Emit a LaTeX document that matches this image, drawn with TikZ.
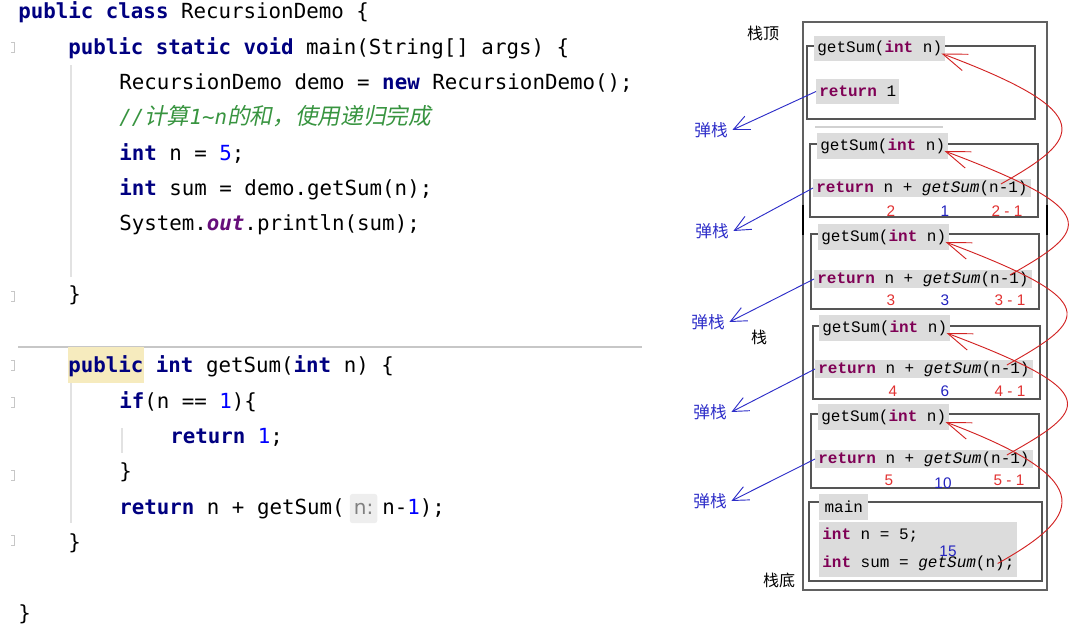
\documentclass[tikz,border=0pt]{standalone}
\usepackage{fontspec}
\setmonofont{DejaVu Sans Mono}
\setsansfont{Liberation Sans}
\newfontfamily\stackfont{Liberation Mono}
\newfontfamily\cjk{Noto Sans CJK SC}
\newfontfamily\cjkslant[FakeSlant=0.2]{Noto Sans CJK SC}
\newfontfamily\hintfont{DejaVu Sans}
\usetikzlibrary{arrows.meta,positioning}

\definecolor{kwnavy}{RGB}{0,0,128}
\definecolor{litblue}{RGB}{0,0,255}
\definecolor{cmtgreen}{RGB}{56,148,64}
\definecolor{fieldpurple}{RGB}{102,14,122}
\definecolor{pubbg}{RGB}{246,235,190}
\definecolor{guide}{RGB}{226,226,226}
\definecolor{hintbg}{RGB}{238,238,238}
\definecolor{hintfg}{RGB}{128,128,128}
\definecolor{ekpurple}{RGB}{127,0,85}
\definecolor{hlgray}{RGB}{220,220,220}
\definecolor{framegray}{RGB}{85,85,85}
\definecolor{popblue}{RGB}{45,45,200}
\definecolor{callred}{RGB}{210,35,35}
\definecolor{valred}{RGB}{225,50,50}
\definecolor{valblue}{RGB}{35,35,190}

\newcommand\kw[1]{\textcolor{kwnavy}{\bfseries #1}}
\newcommand\lit[1]{\textcolor{litblue}{#1}}
\newcommand\ek[1]{\textcolor{ekpurple}{\bfseries #1}}
\newcommand\codefont{\ttfamily\fontsize{15.6}{18}\selectfont}
\newcommand\stackfnt{\stackfont\fontsize{12}{21}\selectfont}

\begin{document}
\begin{tikzpicture}[x=0.75pt,y=-0.75pt,
  code/.style={anchor=base west, inner sep=0pt, font=\codefont},
  guideline/.style={draw=guide, line width=0.8pt},
  fold/.style={draw=black!22, line width=0.6pt},
  hint/.style={fill=hintbg, rounded corners=2pt, text=hintfg, inner xsep=3pt, inner ysep=0pt, minimum height=22pt, font=\hintfont\fontsize{15}{16}\selectfont},
  stackframe/.style={draw=framegray, line width=1.1pt},
  frametitle/.style={anchor=west, fill=hlgray, inner xsep=2.3pt, inner ysep=0pt, minimum height=19pt, font=\stackfnt},
  retline/.style={anchor=west, fill=hlgray, inner xsep=2.3pt, inner ysep=0pt, minimum height=13.5pt, font=\stackfnt},
  valnum/.style={inner sep=0pt, font=\sffamily\fontsize{11.5}{12}\selectfont},
  stacktag/.style={font=\cjk\fontsize{12}{14}\selectfont},
  pop/.style={text=popblue, font=\cjk\fontsize{12.5}{14}\selectfont},
  poparrow/.style={draw=popblue, line width=0.7pt, -{Straight Barb[length=12pt,width=11pt]}},
  callarrow/.style={draw=callred, line width=0.7pt, -{Straight Barb[length=18pt,width=13pt]}},
]
\useasboundingbox (0,0) rectangle (1076,638);

% the java source
\node[code] (c1) at (18,19) {\kw{public class} RecursionDemo \{};
\node[code] (c2) at (68,54.3) {\kw{public static void} main(String[] args) \{};
\node[code] (c3) at (119,89.6) {RecursionDemo demo = \kw{new} RecursionDemo();};
\node[code, text=cmtgreen] (c4) at (119,124.9) {\itshape //{\cjkslant\fontsize{17}{18}\selectfont 计算}1\textasciitilde n{\cjkslant\fontsize{17}{18}\selectfont 的和，使用递归完成}};
\node[code] (c5) at (119,160.2) {\kw{int} n = \lit{5};};
\node[code] (c6) at (119,195.5) {\kw{int} sum = demo.getSum(n);};
\node[code] (c7) at (119,230.8) {System.\textcolor{fieldpurple}{\bfseries\itshape out}.println(sum);};
\node[code] (c8) at (68,301.4) {\}};

\draw[draw=black!22, line width=1.1pt] (18,347) -- (642,347);
\fill[pubbg] (68,347.5) rectangle (144,383);

\node[code] (c9) at (68,373) {\kw{public int} getSum(\kw{int} n) \{};
\node[code] (c10) at (119,408.3) {\kw{if}(n == \lit{1})\{};
\node[code] (c11) at (170,443.6) {\kw{return} \lit{1};};
\node[code] (c12) at (119,478.9) {\}};
\node[code] (c13) at (119,514.2) {\kw{return} n + getSum(};
\node[hint, right=3.5pt of c13] (h) {n:};
\node[code] (c14) at ([xshift=3.4pt]h.east |- c13.base) {n-\lit{1});};
\node[code] (c15) at (68,549.5) {\}};
\node[code] (c16) at (18,620.1) {\}};

% indent guides and fold marks
\draw[guideline] (71,65) -- (71,277);
\draw[guideline] (71,383) -- (71,523);
\draw[guideline] (122,428) -- (122,453);
\foreach \y in {47,296,365,402,475,540}
  \draw[fold] (11,\y-5) -- (14,\y-5) -- (14,\y+5) -- (11,\y+5);

% the call stack
\draw[draw=black!62, line width=1.1pt] (803,22) rectangle (1047,590);
\draw[line width=1.6pt] (803,205) -- (803,235);
\draw[line width=1.6pt] (1047,205) -- (1047,235);
\node[stacktag] (top) at (763,33) {栈顶};
\node[stacktag] (mid) at (759,337) {栈};
\node[stacktag] (bot) at (779,580) {栈底};

\draw[stackframe] (807,46) rectangle (1035,119);
\node[frametitle] (t1) at (814,48.5) {getSum(\ek{int} n)};
\node[frametitle] (r1) at (816,91.5) {\ek{return} 1};
\draw[draw=black!18, line width=1.5pt] (815,127) -- (943,127);

\draw[stackframe] (810,144) rectangle (1038,217);
\node[frametitle] (t2) at (817,146) {getSum(\ek{int} n)};
\node[retline] (r2) at (813,188) {\ek{return} n + \textit{getSum}(n-1)};
\node[valnum, text=valred] at (891,211) {2};
\node[valnum, text=valblue] at (945,211) {1};
\node[valnum, text=valred] at (1007,211) {2 - 1};

\draw[stackframe] (811,234) rectangle (1039,309);
\node[frametitle] (t3) at (818,237) {getSum(\ek{int} n)};
\node[retline] (r3) at (814,279) {\ek{return} n + \textit{getSum}(n-1)};
\node[valnum, text=valred] at (891,300) {3};
\node[valnum, text=valblue] at (945,300) {3};
\node[valnum, text=valred] at (1010,300) {3 - 1};

\draw[stackframe] (813,326) rectangle (1040,399);
\node[frametitle] (t4) at (819,328) {getSum(\ek{int} n)};
\node[retline] (r4) at (815,369) {\ek{return} n + \textit{getSum}(n-1)};
\node[valnum, text=valred] at (893,391) {4};
\node[valnum, text=valblue] at (945,391) {6};
\node[valnum, text=valred] at (1010,391) {4 - 1};

\draw[stackframe] (811,414) rectangle (1039,488);
\node[frametitle] (t5) at (818,417) {getSum(\ek{int} n)};
\node[retline] (r5) at (815,459) {\ek{return} n + \textit{getSum}(n-1)};
\node[valnum, text=valred] at (889,480) {5};
\node[valnum, text=valblue] at (943,483) {10};
\node[valnum, text=valred] at (1009,480) {5 - 1};

\draw[stackframe] (809,502) rectangle (1042,581);
\node[frametitle, inner xsep=4pt] (mt) at (819,507) {main};
\node[retline, align=left, minimum height=41pt] (mb) at (819,549.5) {\ek{int} n = 5;\\\ek{int} sum = \textit{getSum}(n);};
\node[valnum, text=valblue] at (948,551) {15};

% pop arrows
\node[pop] (p1) at (711,130) {弹栈};
\node[pop] (p2) at (712,231) {弹栈};
\node[pop] (p3) at (708,322) {弹栈};
\node[pop] (p4) at (710,412) {弹栈};
\node[pop] (p5) at (710,501) {弹栈};
\draw[poparrow] (r1.west) -- (p1.east);
\draw[poparrow] (r2.west) -- (p2.east);
\draw[poparrow] (r3.west) -- (p3.east);
\draw[poparrow] (r4.west) -- (p4.east);
\draw[poparrow] (r5.west) -- (p5.east);

% recursive calls
\draw[callarrow] ([shift={(-30,-4)}]r2.east) .. controls +(80,-45) and +(160,60) .. ([shift={(-4,5)}]t1.east);
\draw[callarrow] ([shift={(-22,-4)}]r3.east) .. controls +(80,-45) and +(160,60) .. ([shift={(-4,5)}]t2.east);
\draw[callarrow] ([shift={(-26,-4)}]r4.east) .. controls +(80,-45) and +(160,60) .. ([shift={(-4,5)}]t3.east);
\draw[callarrow] ([shift={(-26,-4)}]r5.east) .. controls +(80,-45) and +(160,60) .. ([shift={(-4,5)}]t4.east);
\draw[callarrow] ([shift={(-20,14)}]mb.east) .. controls +(80,-45) and +(160,60) .. ([shift={(-4,5)}]t5.east);
\end{tikzpicture}
\end{document}
